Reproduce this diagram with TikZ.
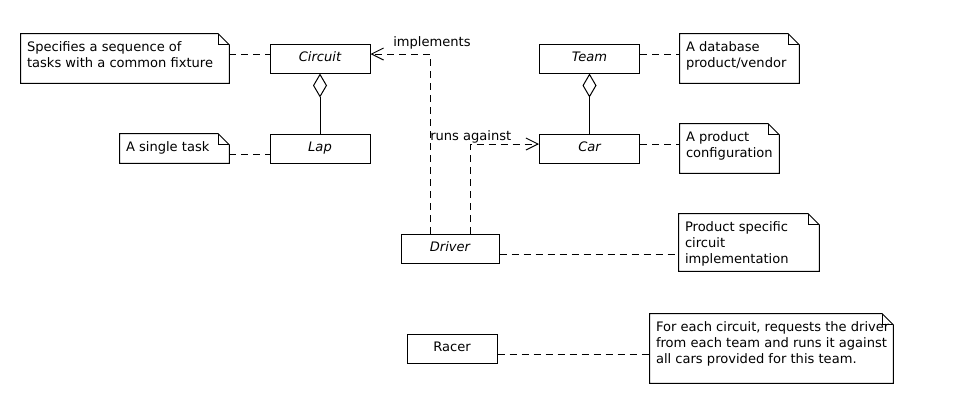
\documentclass[tikz,border=0pt]{standalone}
\usepackage{fontspec}
\setmainfont{DejaVu Sans}
\usetikzlibrary{arrows.meta,calc,fit}
\newcommand\drawnote[1]{%
  \draw[noteline] (#1.north west) -- ($(#1.north east)+(-11,0)$) -- ($(#1.north east)+(0,11)$) -- (#1.south east) -- (#1.south west) -- cycle;
  \draw[noteline] ($(#1.north east)+(-11,0)$) |- ($(#1.north east)+(0,11)$);}
\begin{document}
\begin{tikzpicture}[x=0.75pt,y=-0.75pt,
  every node/.style={font=\fontsize{9.8}{12}\selectfont},
  classbox/.style={draw, line width=0.75pt, fill=white, rectangle, minimum height=21.75pt,
     minimum width=75pt, inner sep=0pt, text height=8pt, text depth=4.25pt},
  abstractname/.style={font=\fontsize{9.8}{12}\selectfont\itshape},
  notearea/.style={inner sep=0pt, draw=none},
  noteline/.style={line width=0.75pt, line join=miter},
  notetext/.style={anchor=north west, inner sep=0pt, align=left},
  noteconn/.style={line width=0.75pt, dash pattern=on 5.25pt off 3.75pt},
  dep/.style={line width=0.75pt, dash pattern=on 5.25pt off 3.75pt, -{Straight Barb[length=9pt,width=9pt]}},
  agg/.style={line width=0.75pt, -{Diamond[open,length=18pt,width=10.5pt]}},
  lbl/.style={anchor=base west, inner sep=0pt}
]
\useasboundingbox (0,0) rectangle (970,404);
\fill[white] (0,0) rectangle (970,404);

% class boxes
\node[classbox, abstractname] (circuit) at (320,58.5) {Circuit};
\node[classbox, abstractname] (lap) at (320,148.5) {Lap};
\node[classbox, abstractname] (team) at (589.5,58.5) {Team};
\node[classbox, abstractname] (car) at (589.5,148.5) {Car};
\node[classbox, abstractname, minimum width=73.5pt] (driver) at (450,248.5) {Driver};
\node[classbox, minimum width=67.5pt] (racer) at (452,348.5) {Racer};

% notes
\node[notearea, fit={(21,34) (229,83)}] (n1) {};
\node[notearea, fit={(120,134) (229,163)}] (nlap) {};
\node[notearea, fit={(680,34) (799,83)}] (nteam) {};
\node[notearea, fit={(680,124) (779,173)}] (ncar) {};
\node[notearea, fit={(679,214) (819,271)}] (ndriver) {};
\node[notearea, fit={(650,314) (893,383)}] (nracer) {};
\drawnote{n1}
\drawnote{nlap}
\drawnote{nteam}
\drawnote{ncar}
\drawnote{ndriver}
\drawnote{nracer}
\node[notetext] (t1) at ($(n1.north west)+(6,5)$) {\rule{0pt}{9pt}Specifies a sequence of\\tasks with a common fixture};
\node[notetext] (tlap) at ($(nlap.north west)+(6,5)$) {\rule{0pt}{9pt}A single task};
\node[notetext] (tteam) at ($(nteam.north west)+(6,5)$) {\rule{0pt}{9pt}A database\\product/vendor};
\node[notetext] (tcar) at ($(ncar.north west)+(6,5)$) {\rule{0pt}{9pt}A product\\configuration};
\node[notetext] (tdriver) at ($(ndriver.north west)+(6,5)$) {\rule{0pt}{9pt}Product specific\\circuit\\implementation};
\node[notetext] (tracer) at ($(nracer.north west)+(6,5)$) {\rule{0pt}{9pt}For each circuit, requests the driver\\from each team and runs it against\\all cars provided for this team.};

% heights of note connectors
\coordinate (yA) at (0,54);
\coordinate (yB) at (0,154);
\coordinate (yC) at (0,144);
\coordinate (yD) at (0,254);
\coordinate (yE) at (0,354);
\draw[noteconn] (n1.east |- yA) -- (circuit.west |- yA);
\draw[noteconn] (nlap.east |- yB) -- (lap.west |- yB);
\draw[noteconn] (team.east |- yA) -- (nteam.west |- yA);
\draw[noteconn] (car.east |- yC) -- (ncar.west |- yC);
\draw[noteconn] (driver.east |- yD) -- (ndriver.west |- yD);
\draw[noteconn] (racer.east |- yE) -- (nracer.west |- yE);

% aggregations
\draw[agg] (lap.north) -- (circuit.south);
\draw[agg] (car.north) -- (team.south);

% dependencies
\coordinate (impl) at (430,54);
\coordinate (runs) at (470,144);
\draw[dep] (driver.north -| impl) -- (impl) -- (circuit.east |- impl);
\draw[dep] (driver.north -| runs) -- (runs) -- (car.west |- runs);
\node[lbl] (limpl) at (393,46.7) {implements};
\node[lbl] (lruns) at (430,140.7) {runs against};
\end{tikzpicture}
\end{document}
